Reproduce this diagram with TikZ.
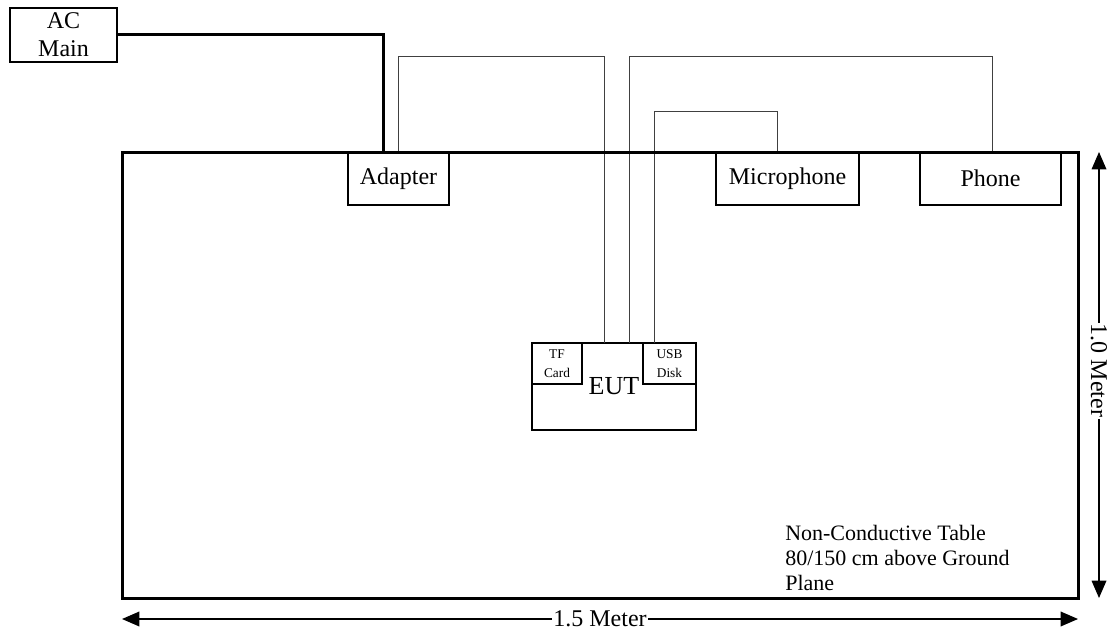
\documentclass[tikz,border=0pt]{standalone}
\usepackage{fontspec}
\setmainfont{Liberation Serif}
\usetikzlibrary{arrows.meta}

\tikzset{
  unitbox/.style={draw, line width=1pt, inner sep=0pt, outer sep=0pt, align=center,
    font=\fontsize{18}{21}\selectfont},
  portbox/.style={draw, line width=1pt, inner sep=0pt, outer sep=0pt, align=center,
    minimum width=37.5pt, minimum height=30.75pt, font=\fontsize{10}{14}\selectfont},
  cable/.style={line width=0.6pt, draw=black!75},
  power/.style={line width=2.25pt},
  dimline/.style={line width=1pt,
    {Triangle[length=13pt,width=11pt]}-{Triangle[length=13pt,width=11pt]}},
  dimlabel/.style={fill=white, inner sep=1pt, font=\fontsize{18}{21}\selectfont},
}

\begin{document}
\begin{tikzpicture}[x=0.75pt,y=0.75pt,yscale=-1,xscale=1]
\useasboundingbox (0,0) rectangle (1114,635);

% Units on the table edge
\node[unitbox, minimum width=80.25pt, minimum height=40.5pt] (acmain) at (63.5,35) {AC\\Main};
\node[unitbox, minimum width=75.75pt, minimum height=39.75pt] (adapter) at (398.5,178.5) {\raisebox{-1.5pt}{Adapter}};
\node[unitbox, minimum width=107.25pt, minimum height=39.75pt] (mic) at (787.5,178.5) {\raisebox{-1.5pt}{Microphone}};
\node[unitbox, minimum width=105.75pt, minimum height=39.75pt] (phone) at (990.5,178.5) {Phone};

% EUT with its ports
\node[unitbox, minimum width=123pt, minimum height=65.25pt, font=\fontsize{19.5}{22}\selectfont] (eut) at (614,386.5) {EUT};
\node[portbox, anchor=north west] (tfcard) at (eut.north west) {TF\\Card};
\node[portbox, minimum width=39.75pt, anchor=north east] (usbdisk) at (eut.north east) {USB\\Disk};

% Cables
\draw[cable] (adapter.north) -- ++(0,-96) -| ([xshift=-7.5pt]eut.north);
\draw[cable] ([xshift=11.25pt]eut.north) -- ++(0,-287) -| ([xshift=1.125pt]phone.north);
\draw[cable] ([xshift=30pt]eut.north) -- ++(0,-232) -| ([xshift=-7.875pt]mic.north);
\draw[power] (acmain.east) -| ([xshift=-11.625pt]adapter.north);

% Table
\node[draw, line width=2.25pt, inner sep=0pt, outer sep=0pt, minimum width=717pt, minimum height=334.5pt] (desk) at (600,375) {};

% Dimensions
\draw[dimline] ([xshift=15.75pt]desk.north east) -- node[dimlabel, rotate=-90, pos=0.49] {1.0 Meter} ([xshift=15.75pt]desk.south east);
\draw[dimline] ([yshift=15.75pt]desk.south west) -- node[dimlabel] {1.5 Meter} ([yshift=15.75pt]desk.south east);

% Text Node
\node[anchor=north west, inner sep=0pt, align=left, font=\fontsize{16.5}{18.75}\selectfont] (note) at (785,525)
  {Non-Conductive Table\\80/150 cm above Ground\\Plane};

\end{tikzpicture}
\end{document}
